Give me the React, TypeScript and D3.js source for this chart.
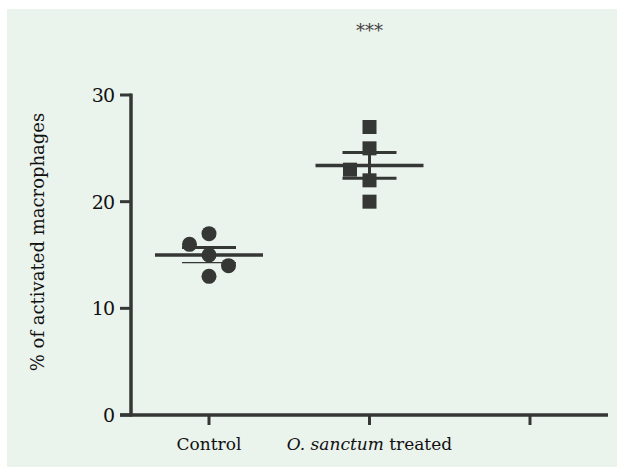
import React from "react";
import * as d3 from "d3";

// groups on the x axis (third slot is empty in the original figure)
const groups = ["Control", "O. sanctum treated", ""];
const controlValues = [17, 16, 15, 14, 13];
const controlJitter = [0, -1, 0, 1, 0];
const treatedValues = [27, 25, 23, 22, 20];
const treatedJitter = [0, 0, -1, 0, 0];
const yTicks = [0, 10, 20, 30];

const W = 622;
const H = 469;
const margin = { top: 95, left: 131, right: 12, bottom: 54 };
const ink = "#353735";
const font = "'DejaVu Serif', 'Liberation Serif', serif";

function stats(v: number[]) {
  const mean = d3.mean(v) as number;
  const sem = (d3.deviation(v) as number) / Math.sqrt(v.length);
  return { mean, sem };
}

export default function App() {
  const x = d3.scalePoint().domain(groups.map((g, i) => String(i))).range([209, 530]);
  const y = d3.scaleLinear().domain([0, 30]).range([H - margin.bottom, margin.top]);
  const jitterStep = 19.5;

  const series = [
    { key: "0", values: controlValues, jitter: controlJitter, shape: "circle" },
    { key: "1", values: treatedValues, jitter: treatedJitter, shape: "square" },
  ];

  const y0 = y(0);
  const axisRight = W - margin.right;

  return (
    <svg width={W} height={H} style={{ display: "block", position: "absolute", left: 0, top: 0 }}>
      <rect x={0} y={0} width={W} height={H} fill="#fff" />
      <rect x={7} y={9} width={610} height={458} fill="#eaf3ec" />

      {/* y axis */}
      <line x1={margin.left} x2={margin.left} y1={y(30) - 1.5} y2={y0 + 1.5} stroke={ink} strokeWidth={3.5} />
      {yTicks.map((t) => (
        <g key={t}>
          <line x1={margin.left - 11} x2={margin.left} y1={y(t)} y2={y(t)} stroke={ink} strokeWidth={3} />
          <text x={margin.left - 17} y={y(t)} dy="0.36em" textAnchor="end" fontFamily={font} fontSize={19} letterSpacing={-1} fill="#111">
            {t}
          </text>
        </g>
      ))}

      {/* x axis */}
      <line x1={margin.left - 11} x2={axisRight - 2} y1={y0} y2={y0} stroke={ink} strokeWidth={3.5} />
      {groups.map((g, i) => (
        <line key={i} x1={x(String(i))} x2={x(String(i))} y1={y0} y2={y0 + 10} stroke={ink} strokeWidth={3} />
      ))}
      <text x={x("0")} y={450} textAnchor="middle" fontFamily={font} fontSize={17} fill="#111">
        Control
      </text>
      <text x={x("1")} y={450} textAnchor="middle" fontFamily={font} fontSize={17} fill="#111">
        <tspan fontStyle="italic">O. sanctum</tspan> treated
      </text>

      {/* y label */}
      <text
        transform={`translate(44,${242}) rotate(-90)`}
        textAnchor="middle"
        fontFamily={font}
        fontSize={18}
        fill="#111"
      >
        % of activated macrophages
      </text>

      {/* points and mean ± SEM */}
      {series.map((s) => {
        const cx = x(s.key) as number;
        const { mean, sem } = stats(s.values);
        return (
          <g key={s.key}>
            {s.values.map((v, i) =>
              s.shape === "circle" ? (
                <circle key={i} cx={cx + s.jitter[i] * jitterStep} cy={y(v)} r={7.5} fill={ink} />
              ) : (
                <rect key={i} x={cx + s.jitter[i] * jitterStep - 7} y={y(v) - 7} width={14} height={14} fill={ink} />
              )
            )}
            <line x1={cx} x2={cx} y1={y(mean + sem)} y2={y(mean - sem)} stroke={ink} strokeWidth={3} />
            <line x1={cx - 27} x2={cx + 27} y1={y(mean + sem)} y2={y(mean + sem)} stroke={ink} strokeWidth={3} />
            <line x1={cx - 27} x2={cx + 27} y1={y(mean - sem)} y2={y(mean - sem)} stroke={ink} strokeWidth={s.shape === "circle" ? 1.2 : 3} />
            <line x1={cx - 54} x2={cx + 54} y1={y(mean)} y2={y(mean)} stroke={ink} strokeWidth={3.5} />
          </g>
        );
      })}

      <text x={x("1")} y={37} textAnchor="middle" fontFamily={font} fontSize={18} fill="#444">
        ***
      </text>
    </svg>
  );
}
